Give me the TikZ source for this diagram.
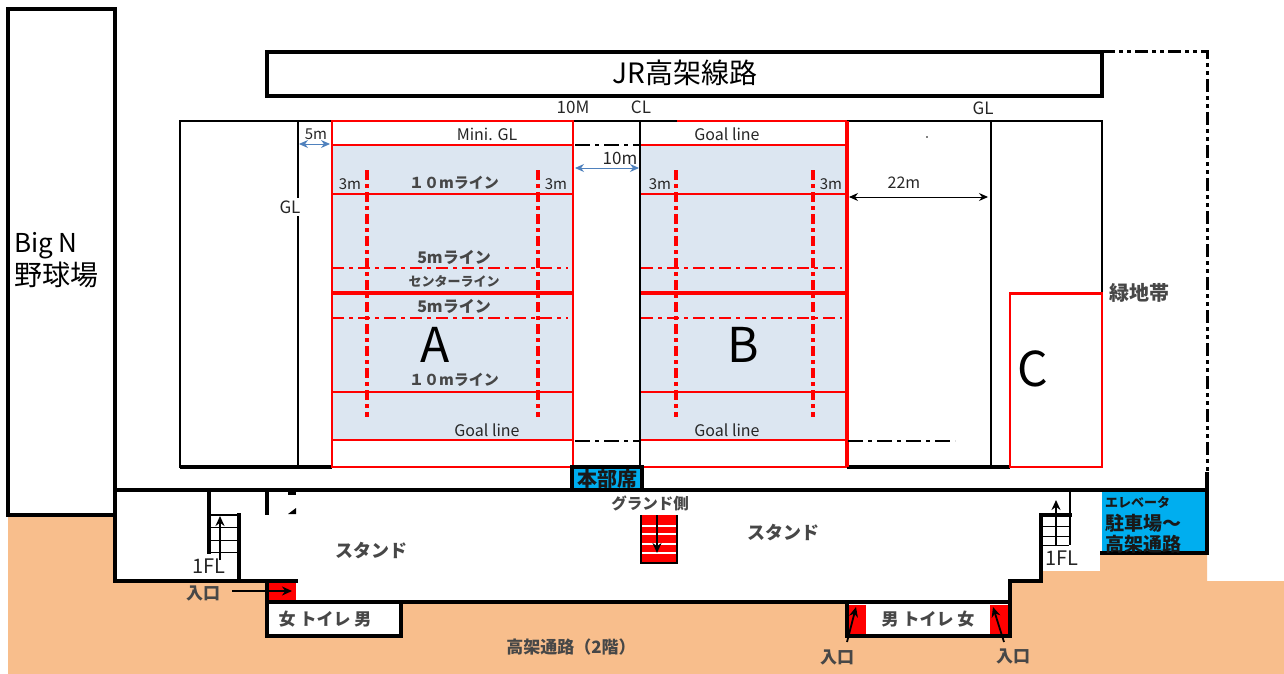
\documentclass[tikz,border=0pt]{standalone}
\usepackage{fontspec}
\setmainfont{Noto Sans CJK JP}
\usetikzlibrary{arrows.meta,positioning,calc}
\definecolor{sand}{HTML}{F8BE8C}
\definecolor{courtblue}{HTML}{DCE6F1}
\definecolor{roomblue}{HTML}{00AEEF}
\definecolor{dimblue}{HTML}{4F81BD}
\newcommand{\fsz}[1]{\fontsize{#1}{#1}\selectfont}
\begin{document}
\begin{tikzpicture}[
    x=1pt, y=-1pt,
    wall/.style={line width=3.2pt, line cap=rect},
    thinwall/.style={line width=1.8pt},
    redline/.style={red, line width=1.8pt},
    redpost/.style={red, line width=3.6pt, dash pattern=on 10pt off 4pt on 4pt off 4pt},
    redcross/.style={red, line width=1.6pt, dash pattern=on 12pt off 5pt on 4pt off 5pt},
    blackdash/.style={line width=1.8pt, dash pattern=on 15pt off 5pt on 4pt off 5pt},
    lbl/.style={inner sep=0pt, text=black!85, font=\fsz{17}},
    jptext/.style={inner sep=0pt, text=black!72, font=\fsz{16}\bfseries},
    roomtext/.style={inner sep=0pt, text=black!90, font=\fsz{19}\bfseries},
    letter/.style={inner sep=0pt, font=\fsz{48}},
    dimarrow/.style={{Stealth[length=9pt,width=8pt]}-{Stealth[length=9pt,width=8pt]}, line width=1pt},
    stairarrow/.style={-{Stealth[length=10pt,width=9pt]}, line width=1.8pt}
]
    \useasboundingbox (0,0) rectangle (1284,674);
    \fill[white] (0,0) rectangle (1284,674);

    % Ground
    \fill[sand] (8,515) -- (115,515) -- (115,581) -- (267,581) -- (267,603) -- (1010,603)
        -- (1010,581) -- (1040,581) -- (1040,571) -- (1100,571) -- (1100,553) -- (1207,553)
        -- (1207,581) -- (1284,581) -- (1284,674) -- (8,674) -- cycle;

    % Ballpark and viaduct
    \draw[wall] (8,9) rectangle (115,515);
    \node[lbl, text=black, font=\fsz{26}, align=left, anchor=north west] (park) at (14,232) {Big N\\[2pt]{\fsz{28}野球場}};
    \draw[wall] (267,52) rectangle (1102,96);
    \node[lbl, text=black, font=\fsz{28}] (jr) at (685,73) {JR高架線路};
    \draw[line width=3pt, dash pattern=on 13pt off 4pt on 4pt off 4pt on 4pt off 4pt] (1102,52) -- (1207,52) -- (1207,472);
    \draw[wall] (1207,474) -- (1207,490);

    % Field
    \draw[thinwall] (180,121) rectangle (1102,467);
    \draw[line width=3.2pt] (180,467) -- (332,467) (847,467) -- (1010,467);
    \draw[thinwall] (298,121) -- (298,467) (991,121) -- (991,467);
    \node[lbl, fill=white, inner ysep=3pt] (glleft) at (290,207) {GL};

    % Courts
    \fill[courtblue] (332,145) rectangle (573,440);
    \fill[courtblue] (641,145) rectangle (847,440);
    \foreach \xa/\xb/\pa/\pb in {332/573/367/538, 641/847/676/813} {
        \foreach \yy in {145,194,392,440}
            \draw[redline] (\xa,\yy) -- (\xb,\yy);
        \draw[red, line width=3.6pt] (\xa,293) -- (\xb,293);
        \draw[redcross] (\xa,268) -- ($(\xb,268)-(5,0)$);
        \draw[redcross] (\xa,318) -- ($(\xb,318)-(5,0)$);
        \draw[redpost] (\pa,170) -- (\pa,417);
        \draw[redpost] (\pb,170) -- (\pb,417);
    }
    \draw[redline] (332,121) rectangle (573,467);
    \draw[red, line width=2.8pt] (332,467) -- (573,467) (641,467) -- (847,467);
    \draw[redline] (677,121) -- (847,121);
    \draw[red, line width=3.6pt] (847,121) -- (847,467);
    \draw[thinwall] (640,121) -- (640,467);
    \draw[blackdash] (575,145) -- (640,145);
    \draw[blackdash] (575,441) -- (640,441);
    \draw[blackdash] (848,441) -- (955,441);

    % Area C
    \draw[redline] (1010,467) -- (1010,293) -- (1102,293) -- (1102,467) -- cycle;
    \draw[red, line width=3pt] (1010,293) -- (1102,293);
    \node[jptext, font=\fsz{20}\bfseries] (green) at (1139,293) {緑地帯};

    % Stand
    \draw[wall] (115,490) -- (1207,490);
    \draw[wall] (115,515) -- (115,581) -- (296,581);
    \fill[white] (267,603) rectangle (401,636);
    \fill[white] (847,603) rectangle (1010,636);
    \draw[wall] (267,581) -- (267,636) -- (401,636) -- (401,603);
    \draw[wall] (267,602) -- (1010,602) -- (1010,581) -- (1041,581) -- (1041,515) -- (1070,515);
    \draw[wall] (847,602) -- (847,636) -- (1010,636) -- (1010,602);
    \draw[wall] (267,490) -- (267,513);
    \fill (288,491) rectangle (296,495);
    \fill (296,508) -- (296,514) -- (288,514) -- cycle;
    \fill (927,137) circle (0.8);

    % Stairs, left
    \draw[wall] (209,490) -- (209,552);
    \draw[wall] (239,515) -- (239,581);
    \draw[thinwall] (209,515) -- (239,515);
    \foreach \yy in {527,540,552}
        \draw[line width=1pt] (211,\yy) -- (238,\yy);
    \coordinate (stairla) at (220,560);
    \coordinate (stairlb) at (220,516);
    \draw[stairarrow] (stairla) -- (stairlb);

    % Stairs, right
    \draw[thinwall] (1070,490) -- (1070,545);
    \foreach \yy in {526,536,545}
        \draw[line width=1pt] (1042,\yy) -- (1069,\yy);
    \coordinate (stairra) at (1056,546);
    \coordinate (stairrb) at (1056,500);
    \draw[stairarrow] (stairra) -- (stairrb);

    % Stairs, centre
    \fill[red] (641,515) rectangle (677,563);
    \foreach \yy in {526,534,544,553}
        \draw[white, line width=1.2pt] (642,\yy) -- (676,\yy);
    \draw[line width=2.6pt] (641,515) -- (641,563) -- (677,563) -- (677,515);
    \coordinate (stairca) at (657,515);
    \coordinate (staircb) at (657,553);
    \draw[stairarrow] (stairca) -- (staircb);

    % Entrances
    \fill[red] (269,583) rectangle (296,600);
    \fill[red] (849,605) rectangle (866,634);
    \fill[red] (990,605) rectangle (1008,634);
    \node[jptext, font=\fsz{17}\bfseries] (inl) at (203,593) {入口};
    \node[jptext, font=\fsz{17}\bfseries] (inm) at (837,657) {入口};
    \node[jptext, font=\fsz{17}\bfseries] (inr) at (1013,656) {入口};
    \coordinate (inla) at (232,591);
    \coordinate (inlb) at (292,591);
    \coordinate (inma) at (847,642);
    \coordinate (inmb) at (856,607);
    \coordinate (inra) at (1004,642);
    \coordinate (inrb) at (993,607);
    \draw[stairarrow] (inla) -- (inlb);
    \draw[stairarrow] (inma) -- (inmb);
    \draw[stairarrow] (inra) -- (inrb);

    % Rooms
    \draw[wall, fill=roomblue] (572,467) rectangle (642,490);
    \node[roomtext, font=\fsz{20}\bfseries] (hq) at (607,479) {本部席};
    \fill[roomblue] (1102,492) rectangle (1207,553);
    \draw[wall] (1102,553) -- (1207,553) -- (1207,490);
    \node[roomtext, anchor=west, font=\fsz{13}\bfseries] (elev) at (1105,502) {エレベータ};
    \node[roomtext, anchor=west] (park2) at (1105,523) {駐車場～};
    \node[roomtext, anchor=west] (way) at (1105,544) {高架通路};

    % Labels, stand
    \node[jptext, font=\fsz{15.5}\bfseries] (side) at (650,503) {グランド側};
    \node[jptext, font=\fsz{18}\bfseries] (standl) at (371,551) {スタンド};
    \node[jptext, font=\fsz{18}\bfseries] (standr) at (783,533) {スタンド};
    \node[lbl, font=\fsz{20}] (fll) at (209,566) {1FL};
    \node[lbl, font=\fsz{20}] (flr) at (1062,558) {1FL};
    \node[jptext, font=\fsz{17}\bfseries] (wcl) at (325,619) {女 トイレ 男};
    \node[jptext, font=\fsz{17}\bfseries] (wcr) at (928,619) {男 トイレ 女};
    \node[jptext, font=\fsz{17}\bfseries] (road) at (571,647) {高架通路（2階）};

    % Labels, field
    \node[lbl] (mten) at (573,107) {10M};
    \node[lbl] (cl) at (641,107) {CL};
    \node[lbl] (glright) at (983,108) {GL};
    \node[lbl, font=\fsz{16}] (mini) at (487,134) {Mini. GL};
    \node[lbl, font=\fsz{16}] (goalbt) at (727,134) {Goal line};
    \node[lbl, font=\fsz{16}] (goalab) at (487,430) {Goal line};
    \node[lbl, font=\fsz{16}] (goalbb) at (727,430) {Goal line};
    \node[lbl, font=\fsz{15}] (m3a) at (350,184) {3m};
    \node[lbl, font=\fsz{15}] (m3b) at (556,184) {3m};
    \node[lbl, font=\fsz{15}] (m3c) at (660,184) {3m};
    \node[lbl, font=\fsz{15}] (m3d) at (831,184) {3m};
    \node[jptext, font=\fsz{15}\bfseries] (tena) at (454,183) {１０mライン};
    \node[jptext] (fivea) at (454,257) {5mライン};
    \node[jptext, font=\fsz{13}\bfseries] (center) at (454,281) {センターライン};
    \node[jptext] (fiveb) at (454,306) {5mライン};
    \node[jptext, font=\fsz{15}\bfseries] (tenb) at (454,380) {１０mライン};
    \node[letter] (courta) at (435,345) {A};
    \node[letter] (courtb) at (743,345) {B};
    \node[letter] (courtc) at (1033,369) {C};

    % Distances
    \node[lbl, font=\fsz{15}] (m5) at (316,134) {5m};
    \node[lbl] (m10) at (620,158) {10m};
    \node[lbl, font=\fsz{16}] (m22) at (904,183) {22m};
    \coordinate (m5a) at (299,144);
    \coordinate (m5b) at (330,144);
    \coordinate (m10a) at (575,168);
    \coordinate (m10b) at (639,168);
    \coordinate (m22a) at (849,197);
    \coordinate (m22b) at (988,197);
    \draw[dimarrow, dimblue] (m5a) -- (m5b);
    \draw[dimarrow, dimblue] (m10a) -- (m10b);
    \draw[dimarrow] (m22a) -- (m22b);
\end{tikzpicture}
\end{document}
